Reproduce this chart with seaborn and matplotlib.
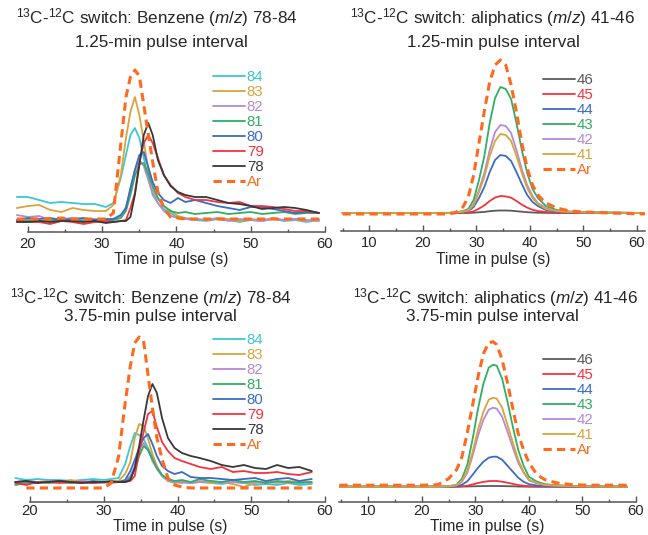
import numpy as np
import pandas as pd
import seaborn as sns
import matplotlib
matplotlib.use('Agg')
import matplotlib.pyplot as plt
from matplotlib.ticker import MultipleLocator

# ---- data (intensity in arbitrary units, 0 = baseline) ----

# benzene, 1.25-min pulse interval
bz1_t = [18.5, 20, 21.5, 23, 24.5, 26, 27.5, 29, 30.5, 31.5, 32.5, 33.2, 33.8, 34.4, 35.0,
         35.6, 36.2, 36.8, 37.5, 38.3, 39.2, 40.2, 41.2, 42.5, 44, 45.5, 47, 48.5, 50,
         51.5, 53, 54.5, 56, 57.5, 59.2]
bz1_84 = [24, 24, 21, 18, 19, 18, 17, 17, 14, 18, 43, 66, 86, 93, 83, 63, 43, 26, 18, 12,
          8, 3, 2, 1, 0, 2, 1, -1, 1, 0, 2, 0, 1, -1, 1]
bz1_83 = [13, 15, 16, 11, 9, 13, 11, 10, 10, 16, 46, 83, 109, 124, 106, 80, 51, 31, 22, 15,
          10, 5, 3, 2, 1, 3, 2, 0, 2, 1, 3, 1, 2, 0, 2]
bz1_82 = [6, 4, 5, 1, 2, 3, 1, 2, 1, 2, 5, 14, 31, 51, 61, 55, 41, 28, 18, 10,
          5, 3, 2, 2, 1, 2, 0, 2, 1, 0, 2, 1, 2, 1, 0]
bz1_81 = [0, 1, 0, 1, 0, 1, 0, 1, 0, 1, 3, 10, 26, 45, 57, 58, 47, 35, 23, 15,
          10, 8, 9, 7, 8, 9, 7, 8, 9, 7, 8, 9, 7, 8, 8]
bz1_80 = [1, 3, 2, 3, 1, 2, 3, 1, 2, 2, 6, 13, 33, 51, 66, 69, 54, 39, 28, 21,
          18, 23, 19, 21, 18, 15, 13, 11, 14, 14, 12, 10, 8, 9, 8]
bz1_79 = [0, -1, -1, -3, 0, -1, -3, -1, 0, -1, 0, 1, 13, 28, 58, 78, 86, 78, 63, 46,
          36, 28, 24, 21, 21, 19, 18, 19, 15, 15, 14, 12, 10, 10, 8]
bz1_78 = [-1, -1, 0, -1, 0, 0, -1, 0, -2, -1, 0, 0, 4, 26, 56, 86, 98, 86, 61, 46,
          35, 29, 26, 24, 24, 21, 18, 17, 15, 12, 13, 14, 13, 11, 8]
bz1_ar = [2, 2, 2, 2, 3, 2, 2, 2, 2, 8, 77, 124, 144, 151, 145, 116, 87, 59, 29, 13,
          4, 3, 2, 2, 2, 2, 2, 2, 2, 2, 2, 2, 2, 2, 2]

# benzene, 3.75-min pulse interval
bz3_t = [18, 19.5, 21, 22.5, 24, 25.5, 27, 28.5, 30, 31, 32, 32.9, 33.6, 34.2, 34.8, 35.4,
         36, 36.6, 37.2, 37.9, 38.7, 39.6, 40.6, 41.8, 43, 44.5, 46, 47.5, 49, 50.5, 52,
         53.5, 55, 56.5, 58.2]
bz3_84 = [10, 8, 9, 8, 8, 7, 8, 9, 8, 9, 10, 24, 42, 55, 53, 49, 40, 31, 21, 13,
          7, 5, 6, 5, 6, 5, 4, 6, 5, 3, 4, 3, 5, 3, 4]
bz3_83 = [6, 5, 6, 7, 6, 8, 6, 5, 6, 6, 7, 14, 26, 50, 64, 62, 49, 34, 22, 12,
          7, 6, 5, 6, 7, 5, 6, 4, 1, 5, 6, 5, 7, 6, 6]
bz3_82 = [4, 6, 5, 7, 6, 5, 7, 6, 5, 6, 6, 7, 12, 22, 38, 45, 38, 27, 19, 12,
          8, 6, 6, 5, 6, 7, 5, 6, 5, 6, 5, 6, 5, 6, 5]
bz3_81 = [3, 5, 6, 5, 6, 5, 6, 5, 6, 5, 6, 6, 10, 18, 32, 42, 38, 29, 20, 13,
          9, 7, 8, 6, 9, 7, 6, 8, 6, 7, 5, 7, 6, 5, 6]
bz3_80 = [6, 7, 6, 6, 7, 6, 5, 7, 6, 6, 6, 8, 17, 28, 40, 50, 54, 44, 32, 22,
          17, 14, 16, 11, 10, 10, 9, 8, 9, 10, 7, 9, 10, 7, 9]
bz3_79 = [5, 3, 6, 6, 5, 6, 6, 5, 6, 6, 6, 6, 7, 12, 36, 56, 74, 77, 61, 46,
          37, 30, 27, 24, 21, 19, 21, 16, 17, 15, 15, 16, 14, 13, 16]
bz3_78 = [6, 7, 5, 6, 7, 6, 5, 6, 6, 7, 6, 6, 8, 20, 42, 68, 92, 104, 95, 70,
          50, 40, 35, 32, 30, 27, 23, 21, 23, 20, 19, 23, 20, 21, 17]
bz3_ar = [np.nan, 0, 0, 0, 0, 0, 0, 0, 0, 5, 31, 85, 122, 145, 151, 147, 113, 80, 50, 29,
          10, 3, 1, 0, 0, 0, 0, 0, 0, 0, 0, 0, 0, 0, 0]

# aliphatics, 1.25-min pulse interval
al1_t = [5, 10, 15, 20, 24, 26, 27.5, 28.5, 29.5, 30.5, 31.5, 32.5, 33.5, 34.5, 35.5,
         36.5, 37.5, 38.5, 39.5, 40.5, 41.5, 43, 45, 47.5, 50, 55, 61.5]
al1_46 = [0, 0, 0, 0, 0, 0, 0, 0.1, 0.3, 0.7, 1.1, 1.8, 2.3, 2.5, 2.5, 2.3, 1.8, 1.3,
          0.8, 0.5, 0.3, 0.1, 0, 0, 0, 0, 0]
al1_45 = [0, 0, 0, 0, 0, 0, 0.3, 0.5, 1.7, 4.4, 7.6, 12, 15.4, 17, 16.6, 15.3, 12, 8.4,
          5.4, 3.2, 2, 1, 0.4, 0.2, 0.1, 0, 0]
al1_44 = [0, 0, 0, 0, 0, 0.2, 1, 2, 6, 15, 26, 41, 53, 58, 57, 52, 41, 29, 18, 11, 7, 3,
          1.4, 0.7, 0.5, 0.2, 0]
al1_43 = [0, 0, 0, 0, 0, 0.5, 2, 4, 13, 33, 57, 90, 115, 126, 124, 114, 90, 63, 40, 24,
          15, 7, 3, 1.5, 1, 0.5, 0]
al1_42 = [0, 0, 0, 0, 0, 0.4, 1.4, 3, 9, 23, 40, 63, 81, 88, 87, 80, 63, 44, 28, 17, 10,
          5, 2, 1, 0.7, 0.4, 0]
al1_41 = [0, 0, 0, 0, 0, 0.3, 1.3, 2.5, 8, 21, 36, 57, 72, 79, 78, 72, 57, 40, 25, 15, 9,
          4, 2, 1, 0.6, 0.3, 0]
al1_ar = [-1, -1, -1, -1, -1, 0, 6, 16, 38, 70, 102, 131, 148, 153, 148, 128, 101, 70, 45,
          28, 18, 10, 5, 2, 1, 0, -1]

# aliphatics, 3.75-min pulse interval
al3_t = [4.6, 10, 15, 20, 23, 25, 26.5, 27.5, 28.5, 29.5, 30.5, 31.5, 32.5, 33.3, 34, 35,
         36, 37, 38, 39, 40, 41.5, 43, 45, 48, 52, 58.3]
al3_46 = [0, 0, 0, 0, 0, 0, 0, 0.1, 0.2, 0.4, 0.5, 0.6, 0.7, 0.7, 0.7, 0.6, 0.5, 0.4,
          0.2, 0.1, 0, 0, 0, 0, 0, 0, 0]
al3_45 = [0, 0, 0, 0, 0, 0, 0.1, 0.4, 1, 2.3, 3.7, 4.8, 5.6, 5.7, 5.7, 5, 4, 2.8, 1.7, 1,
          0.5, 0.2, 0.1, 0, 0, 0, 0]
al3_44 = [0, 0, 0, 0, 0, 0.1, 0.5, 2, 5.4, 12, 19, 25, 29, 30, 30, 27, 21, 15, 9, 5, 2.5,
          1.2, 0.6, 0.4, 0.2, 0, 0]
al3_43 = [0, 0, 0, 0, 0, 0.5, 2, 8, 22, 48, 78, 103, 119, 122, 121, 108, 85, 60, 37, 21,
          10, 5, 2.5, 1.5, 0.8, 0.3, 0]
al3_42 = [0, 0, 0, 0, 0, 0.3, 1.3, 5, 14, 31, 51, 67, 77, 79, 78, 70, 55, 39, 24, 14,
          6.5, 3.2, 1.6, 1, 0.5, 0.2, 0]
al3_41 = [0, 0, 0, 0, 0, 0.4, 1.5, 6, 16, 35, 57, 75, 87, 89, 88, 79, 62, 44, 27, 15, 7,
          3.6, 1.8, 1.1, 0.6, 0.2, 0]
al3_ar = [1.5, 1.5, 1.5, 1.5, 2, 8, 17, 30, 54, 82, 110, 133, 144, 145, 142, 127, 104, 78,
          53, 37, 24, 12, 7, 4, 2, 1.5, 1.5]

bz_labels = ['84', '83', '82', '81', '80', '79', '78', 'Ar']
al_labels = ['46', '45', '44', '43', '42', '41', 'Ar']

# ---- styling ----
sns.set_style('white')
plt.rcParams['font.family'] = ['Liberation Sans', 'DejaVu Sans']
plt.rcParams['mathtext.fontset'] = 'custom'
plt.rcParams['mathtext.rm'] = 'Liberation Sans'
plt.rcParams['mathtext.it'] = 'Liberation Sans:italic'

colors = {'84': '#3cc8d2', '83': '#d9a43a', '82': '#b58ad6', '81': '#2fae64',
          '80': '#3a6cc6', '79': '#f5333f', '78': '#383838', 'Ar': '#ff6a1e',
          '46': '#5a5a5a', '45': '#f5333f', '44': '#3a6cc6', '43': '#2fae64',
          '42': '#b58ad6', '41': '#d9a43a'}

W, H = 648, 535
fig = plt.figure(figsize=(W / 100, H / 100), dpi=100)


def make_axes(left, right, top, bottom):
    return fig.add_axes([left / W, 1 - bottom / H, (right - left) / W, (bottom - top) / H])


def draw_panel(ax, t, series, labels, xlim, ylim, bounds, xticks, leg_xy, label_y, pad):
    for lab in labels:
        if lab == 'Ar':
            continue
        sns.lineplot(x=t, y=series[lab], ax=ax, color=colors[lab], lw=1.3)
    sns.lineplot(x=t, y=series['Ar'], ax=ax, color=colors['Ar'], lw=2.2,
                 linestyle=(0, (2.7, 1.7)))
    ax.set_xlim(*xlim)
    ax.set_ylim(*ylim)
    for s in ['left', 'top', 'right']:
        ax.spines[s].set_visible(False)
    ax.spines['bottom'].set_color('#555555')
    ax.spines['bottom'].set_linewidth(1.1)
    if bounds is not None:
        ax.spines['bottom'].set_bounds(*bounds)
    ax.set_yticks([])
    ax.set_xticks(xticks)
    ax.xaxis.set_minor_locator(MultipleLocator(5))
    ax.tick_params(axis='x', which='major', direction='in', length=4, width=1,
                   color='#555555', labelsize=10.6, pad=pad, bottom=True)
    ax.tick_params(axis='x', which='minor', direction='in', length=2, width=1,
                   color='#555555', bottom=True)
    ax.set_ylabel('')
    ax.set_xlabel('Time in pulse (s)', fontsize=11.2)
    bb = ax.get_position()
    ax.xaxis.set_label_coords(0.5, (1 - label_y / H - bb.y0) / bb.height)
    ax.xaxis.label.set_va('center')

    # lines were drawn in label order with Ar last
    named = dict(zip([l for l in labels if l != 'Ar'] + ['Ar'], ax.get_lines()))
    ax.legend([named[l] for l in labels], labels, loc='upper left',
              bbox_to_anchor=(leg_xy[0] / W, 1 - leg_xy[1] / H),
              bbox_transform=fig.transFigure, frameon=False, fontsize=10.8,
              labelcolor='linecolor', handlelength=2.1, handletextpad=0.15,
              labelspacing=0.07, borderpad=0, borderaxespad=0)


ax1 = make_axes(13.1, 328.7, 55, 232)
draw_panel(ax1, bz1_t, {'84': bz1_84, '83': bz1_83, '82': bz1_82, '81': bz1_81,
                        '80': bz1_80, '79': bz1_79, '78': bz1_78, 'Ar': bz1_ar},
           bz_labels, (18, 60.5), (-11, 166), (20, 60), [20, 30, 40, 50, 60],
           (213, 70), 259.5, 3.5)

ax2 = make_axes(341.5, 645.4, 50, 231)
draw_panel(ax2, al1_t, {'46': al1_46, '45': al1_45, '44': al1_44, '43': al1_43,
                        '42': al1_42, '41': al1_41, 'Ar': al1_ar},
           al_labels, (4.8, 61.6), (-18, 163), None, [10, 20, 30, 40, 50, 60],
           (543, 73), 259.5, 3.5)

ax3 = make_axes(11.6, 328.7, 325, 502.3)
draw_panel(ax3, bz3_t, {'84': bz3_84, '83': bz3_83, '82': bz3_82, '81': bz3_81,
                        '80': bz3_80, '79': bz3_79, '78': bz3_78, 'Ar': bz3_ar},
           bz_labels, (17.5, 60.5), (-14.3, 163), (20, 60), [20, 30, 40, 50, 60],
           (213, 333), 527, 1.5)

ax4 = make_axes(338.8, 636, 330, 502.3)
draw_panel(ax4, al3_t, {'46': al3_46, '45': al3_45, '44': al3_44, '43': al3_43,
                        '42': al3_42, '41': al3_41, 'Ar': al3_ar},
           al_labels, (4.5, 60), (-15.6, 156.7), None, [10, 20, 30, 40, 50, 60],
           (543, 353), 527, 1.5)

# two-line panel titles
titles = [
    (157, 18, r'$^{13}$C-$^{12}$C switch: Benzene ($m/z$) 78-84'),
    (161, 42, '1.25-min pulse interval'),
    (493, 18, r'$^{13}$C-$^{12}$C switch: aliphatics ($m/z$) 41-46'),
    (493, 42, '1.25-min pulse interval'),
    (151, 298, r'$^{13}$C-$^{12}$C switch: Benzene ($m/z$) 78-84'),
    (150, 317, '3.75-min pulse interval'),
    (496, 298, r'$^{13}$C-$^{12}$C switch: aliphatics ($m/z$) 41-46'),
    (492, 317, '3.75-min pulse interval'),
]
for x, y, s in titles:
    fig.text(x / W, 1 - y / H, s, ha='center', va='center', fontsize=12.3)

fig.savefig('out.png', dpi=100)
